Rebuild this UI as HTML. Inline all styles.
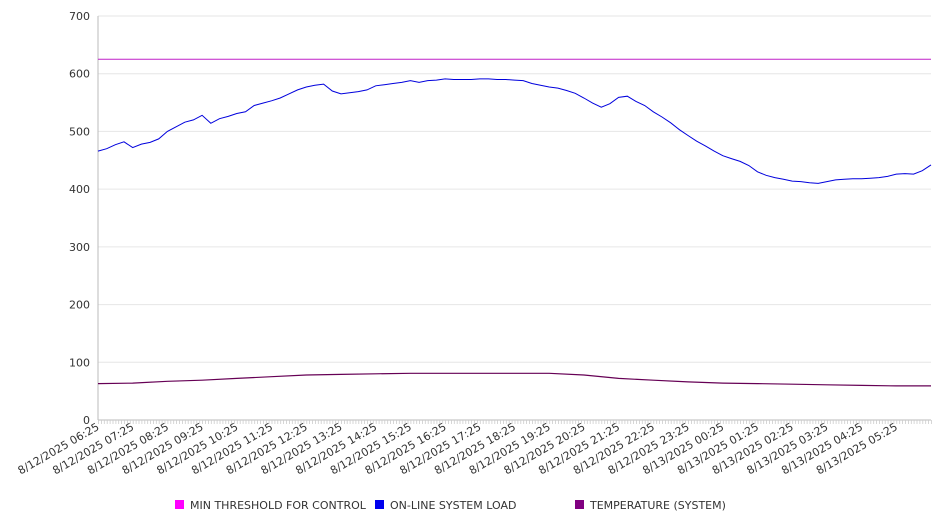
<!DOCTYPE html>
<html><head><meta charset="utf-8"><style>
body{margin:0;background:#fff;}
svg{display:block;font-family:"DejaVu Sans","Liberation Sans",sans-serif;}
</style></head><body>
<svg id="chart" width="946" height="526" viewBox="0 0 946 526"></svg>
<script>
const yTicks=[0,100,200,300,400,500,600,700];
const xLabels=["8/12/2025 06:25","8/12/2025 07:25","8/12/2025 08:25","8/12/2025 09:25","8/12/2025 10:25","8/12/2025 11:25","8/12/2025 12:25","8/12/2025 13:25","8/12/2025 14:25","8/12/2025 15:25","8/12/2025 16:25","8/12/2025 17:25","8/12/2025 18:25","8/12/2025 19:25","8/12/2025 20:25","8/12/2025 21:25","8/12/2025 22:25","8/12/2025 23:25","8/13/2025 00:25","8/13/2025 01:25","8/13/2025 02:25","8/13/2025 03:25","8/13/2025 04:25","8/13/2025 05:25"];
const threshold=625;
// on-line system load, every 15 min
const loadValues=[466,470,477,482,472,478,481,487,500,508,516,520,528,514,522,526,531,534,545,549,553,558,565,572,577,580,582,570,565,567,569,572,579,581,583,585,588,585,588,589,591,590,590,590,591,591,590,590,589,588,583,580,577,575,571,566,558,549,542,548,559,561,552,545,534,525,515,503,493,483,475,466,458,453,448,441,430,424,420,417,414,413,411,410,413,416,417,418,418,419,420,422,426,427,426,432,442];
// temperature, hourly
const tempValues=[63,64,67,69,72,75,78,79,80,81,81,81,81,81,78,72,69,66,64,63,62,61,60,59,59];
const SLOTS=288;
const X0=98,X1=931,Y0=420,Y1=16;
const xs=i=>X0+(X1-X0)*i/SLOTS;
const ys=v=>Y0-(Y0-Y1)*v/700;
const svg=document.getElementById('chart');
const NS='http://www.w3.org/2000/svg';
function mk(t,a){const e=document.createElementNS(NS,t);for(const k in a)e.setAttribute(k,a[k]);svg.appendChild(e);return e;}
yTicks.forEach(v=>{
 const g=mk('line',{x1:X0,x2:X1,y1:ys(v),y2:ys(v),stroke:v===0?'#bbb':'#e6e6e6','stroke-width':1});
 
 
 const t=mk('text',{x:X0-8,y:ys(v)+4,'text-anchor':'end','font-size':11,fill:'#333'});
 t.textContent=v;
 
 
});
const ax=mk('line',{x1:X0,x2:X0,y1:Y1,y2:Y0,stroke:'#bbb'});


let d='';
for(let i=0;i<=SLOTS;i++){d+='M'+(xs(i)+0.5).toFixed(1)+' '+Y0+'v4';}
const mt=mk('path',{d:d,stroke:'#ccc','stroke-width':0.8});


xLabels.forEach((l,i)=>{
 const x=xs(i*12)+2,y=Y0+9;
 const t=mk('text',{x:x,y:y,'text-anchor':'end','font-size':11,fill:'#333',transform:'rotate(-30 '+x+' '+y+')'});
 t.textContent=l;
 
 
});
const th=mk('line',{x1:X0,x2:X1,y1:ys(threshold),y2:ys(threshold),stroke:'#c020c8','stroke-width':1});


const lp=mk('polyline',{fill:'none',stroke:'#0000dd','stroke-width':1,points:loadValues.map((v,i)=>xs(i*3).toFixed(1)+','+ys(v).toFixed(1)).join(' ')});


const tp=mk('polyline',{fill:'none',stroke:'#660055','stroke-width':1.2,points:tempValues.map((v,i)=>xs(i*12).toFixed(1)+','+ys(v).toFixed(1)).join(' ')});


const legend=[['MIN THRESHOLD FOR CONTROL','#ff00ff',175],['ON-LINE SYSTEM LOAD','#0000ee',375],['TEMPERATURE (SYSTEM)','#800080',575]];
legend.forEach(([n,c,x])=>{
 const r=mk('rect',{x:x,y:500,width:9,height:9,fill:c});
 
 
 const t=mk('text',{x:x+15,y:509,'font-size':11,fill:'#333'});
 t.textContent=n;
 
 
});
</script>
</body></html>
